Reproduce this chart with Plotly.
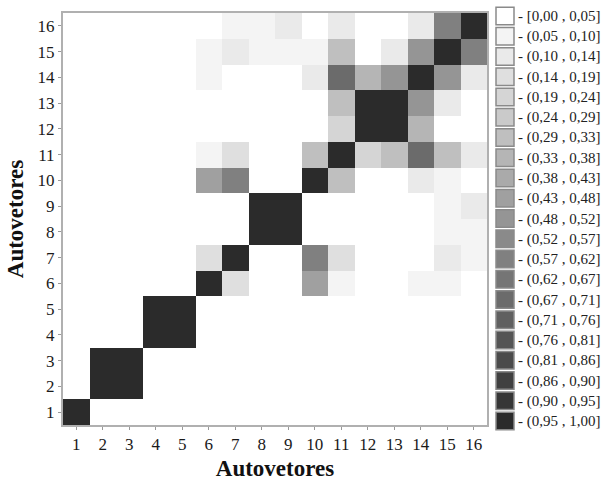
import plotly.graph_objects as go

# Similarity between eigenvectors (symmetric 16 x 16), row k = eigenvector k
autovetores = list(range(1, 17))
similaridade = [
    # 1    2    3    4    5    6     7     8     9     10    11    12    13    14    15    16
    [1.0, 0.0, 0.0, 0.0, 0.0, 0.0,  0.0,  0.0,  0.0,  0.0,  0.0,  0.0,  0.0,  0.0,  0.0,  0.0],   # 1
    [0.0, 1.0, 1.0, 0.0, 0.0, 0.0,  0.0,  0.0,  0.0,  0.0,  0.0,  0.0,  0.0,  0.0,  0.0,  0.0],   # 2
    [0.0, 1.0, 1.0, 0.0, 0.0, 0.0,  0.0,  0.0,  0.0,  0.0,  0.0,  0.0,  0.0,  0.0,  0.0,  0.0],   # 3
    [0.0, 0.0, 0.0, 1.0, 1.0, 0.0,  0.0,  0.0,  0.0,  0.0,  0.0,  0.0,  0.0,  0.0,  0.0,  0.0],   # 4
    [0.0, 0.0, 0.0, 1.0, 1.0, 0.0,  0.0,  0.0,  0.0,  0.0,  0.0,  0.0,  0.0,  0.0,  0.0,  0.0],   # 5
    [0.0, 0.0, 0.0, 0.0, 0.0, 1.0,  0.17, 0.0,  0.0,  0.45, 0.07, 0.0,  0.0,  0.07, 0.07, 0.0],   # 6
    [0.0, 0.0, 0.0, 0.0, 0.0, 0.17, 1.0,  0.0,  0.0,  0.60, 0.17, 0.0,  0.0,  0.0,  0.12, 0.07],  # 7
    [0.0, 0.0, 0.0, 0.0, 0.0, 0.0,  0.0,  1.0,  1.0,  0.0,  0.0,  0.0,  0.0,  0.0,  0.07, 0.07],  # 8
    [0.0, 0.0, 0.0, 0.0, 0.0, 0.0,  0.0,  1.0,  1.0,  0.0,  0.0,  0.0,  0.0,  0.0,  0.07, 0.12],  # 9
    [0.0, 0.0, 0.0, 0.0, 0.0, 0.45, 0.60, 0.0,  0.0,  1.0,  0.31, 0.0,  0.0,  0.12, 0.07, 0.0],   # 10
    [0.0, 0.0, 0.0, 0.0, 0.0, 0.07, 0.17, 0.0,  0.0,  0.31, 1.0,  0.21, 0.31, 0.69, 0.31, 0.12],  # 11
    [0.0, 0.0, 0.0, 0.0, 0.0, 0.0,  0.0,  0.0,  0.0,  0.0,  0.21, 1.0,  1.0,  0.36, 0.0,  0.0],   # 12
    [0.0, 0.0, 0.0, 0.0, 0.0, 0.0,  0.0,  0.0,  0.0,  0.0,  0.31, 1.0,  1.0,  0.50, 0.12, 0.0],   # 13
    [0.0, 0.0, 0.0, 0.0, 0.0, 0.07, 0.0,  0.0,  0.0,  0.12, 0.69, 0.36, 0.50, 1.0,  0.50, 0.12],  # 14
    [0.0, 0.0, 0.0, 0.0, 0.0, 0.07, 0.12, 0.07, 0.07, 0.07, 0.31, 0.0,  0.12, 0.50, 1.0,  0.60],  # 15
    [0.0, 0.0, 0.0, 0.0, 0.0, 0.0,  0.07, 0.07, 0.12, 0.0,  0.12, 0.0,  0.0,  0.12, 0.60, 1.0],   # 16
]

faixas = [
    "- [0,00 , 0,05]", "- (0,05 , 0,10]", "- (0,10 , 0,14]", "- (0,14 , 0,19]",
    "- (0,19 , 0,24]", "- (0,24 , 0,29]", "- (0,29 , 0,33]", "- (0,33 , 0,38]",
    "- (0,38 , 0,43]", "- (0,43 , 0,48]", "- (0,48 , 0,52]", "- (0,52 , 0,57]",
    "- (0,57 , 0,62]", "- (0,62 , 0,67]", "- (0,67 , 0,71]", "- (0,71 , 0,76]",
    "- (0,76 , 0,81]", "- (0,81 , 0,86]", "- (0,86 , 0,90]", "- (0,90 , 0,95]",
    "- (0,95 , 1,00]",
]

# 21 equal-width gray levels from white to near black
n = len(faixas)
cinzas = []
for i in range(n):
    g = round(255 - i * (255 - 43) / (n - 1))
    cinzas.append(f"rgb({g},{g},{g})")

escala = []
for i, c in enumerate(cinzas):
    escala.append([i / n, c])
    escala.append([(i + 1) / n, c])

W, H = 614, 488
L, R, T, B = 63, 127, 11, 53
serif = "Liberation Serif, DejaVu Serif, serif"

fig = go.Figure(go.Heatmap(
    x=autovetores, y=autovetores, z=similaridade,
    zmin=0, zmax=1, colorscale=escala, showscale=False,
    hovertemplate="%{x}, %{y}: %{z}<extra></extra>",
))

eixo = dict(
    tickmode="array", tickvals=autovetores, ticktext=[str(v) for v in autovetores],
    ticks="outside", ticklen=3, tickcolor="#999999", tickwidth=1,
    showline=True, mirror=True, linecolor="#b0b0b0", linewidth=2,
    showgrid=False, zeroline=False,
    tickfont=dict(family=serif, size=17, color="#1a1a1a"),
)

fig.update_xaxes(**eixo, range=[0.5, 16.5], constrain="domain",
                 title=dict(text="<b>Autovetores</b>", standoff=6,
                            font=dict(family=serif, size=23, color="#111111")))
fig.update_yaxes(**eixo, range=[0.5, 16.5],
                 title=dict(text="<b>Autovetores</b>", standoff=8,
                            font=dict(family=serif, size=23, color="#111111")))

# Legend of value ranges drawn at the right of the plot area
pw, ph = W - L - R, H - T - B
def px_x(px):
    return (px - L) / pw
def px_y(py):
    return (H - B - py) / ph

passo = (422 - 5) / (n - 1)
for i, (rotulo, cor) in enumerate(zip(faixas, cinzas)):
    topo = 5 + i * passo
    fig.add_shape(type="rect", xref="paper", yref="paper",
                  x0=px_x(496), x1=px_x(514), y0=px_y(topo + 18), y1=px_y(topo),
                  fillcolor=cor, line=dict(color="#8a8a8a", width=1.5))
    fig.add_annotation(xref="paper", yref="paper", x=px_x(516), y=px_y(topo + 9.5),
                       text=rotulo, showarrow=False, xanchor="left", yanchor="middle",
                       font=dict(family=serif, size=15, color="#222222"))

fig.update_layout(
    width=W, height=H,
    margin=dict(l=L, r=R, t=T, b=B),
    paper_bgcolor="white", plot_bgcolor="white",
    showlegend=False,
)

fig.write_html("out.html")
